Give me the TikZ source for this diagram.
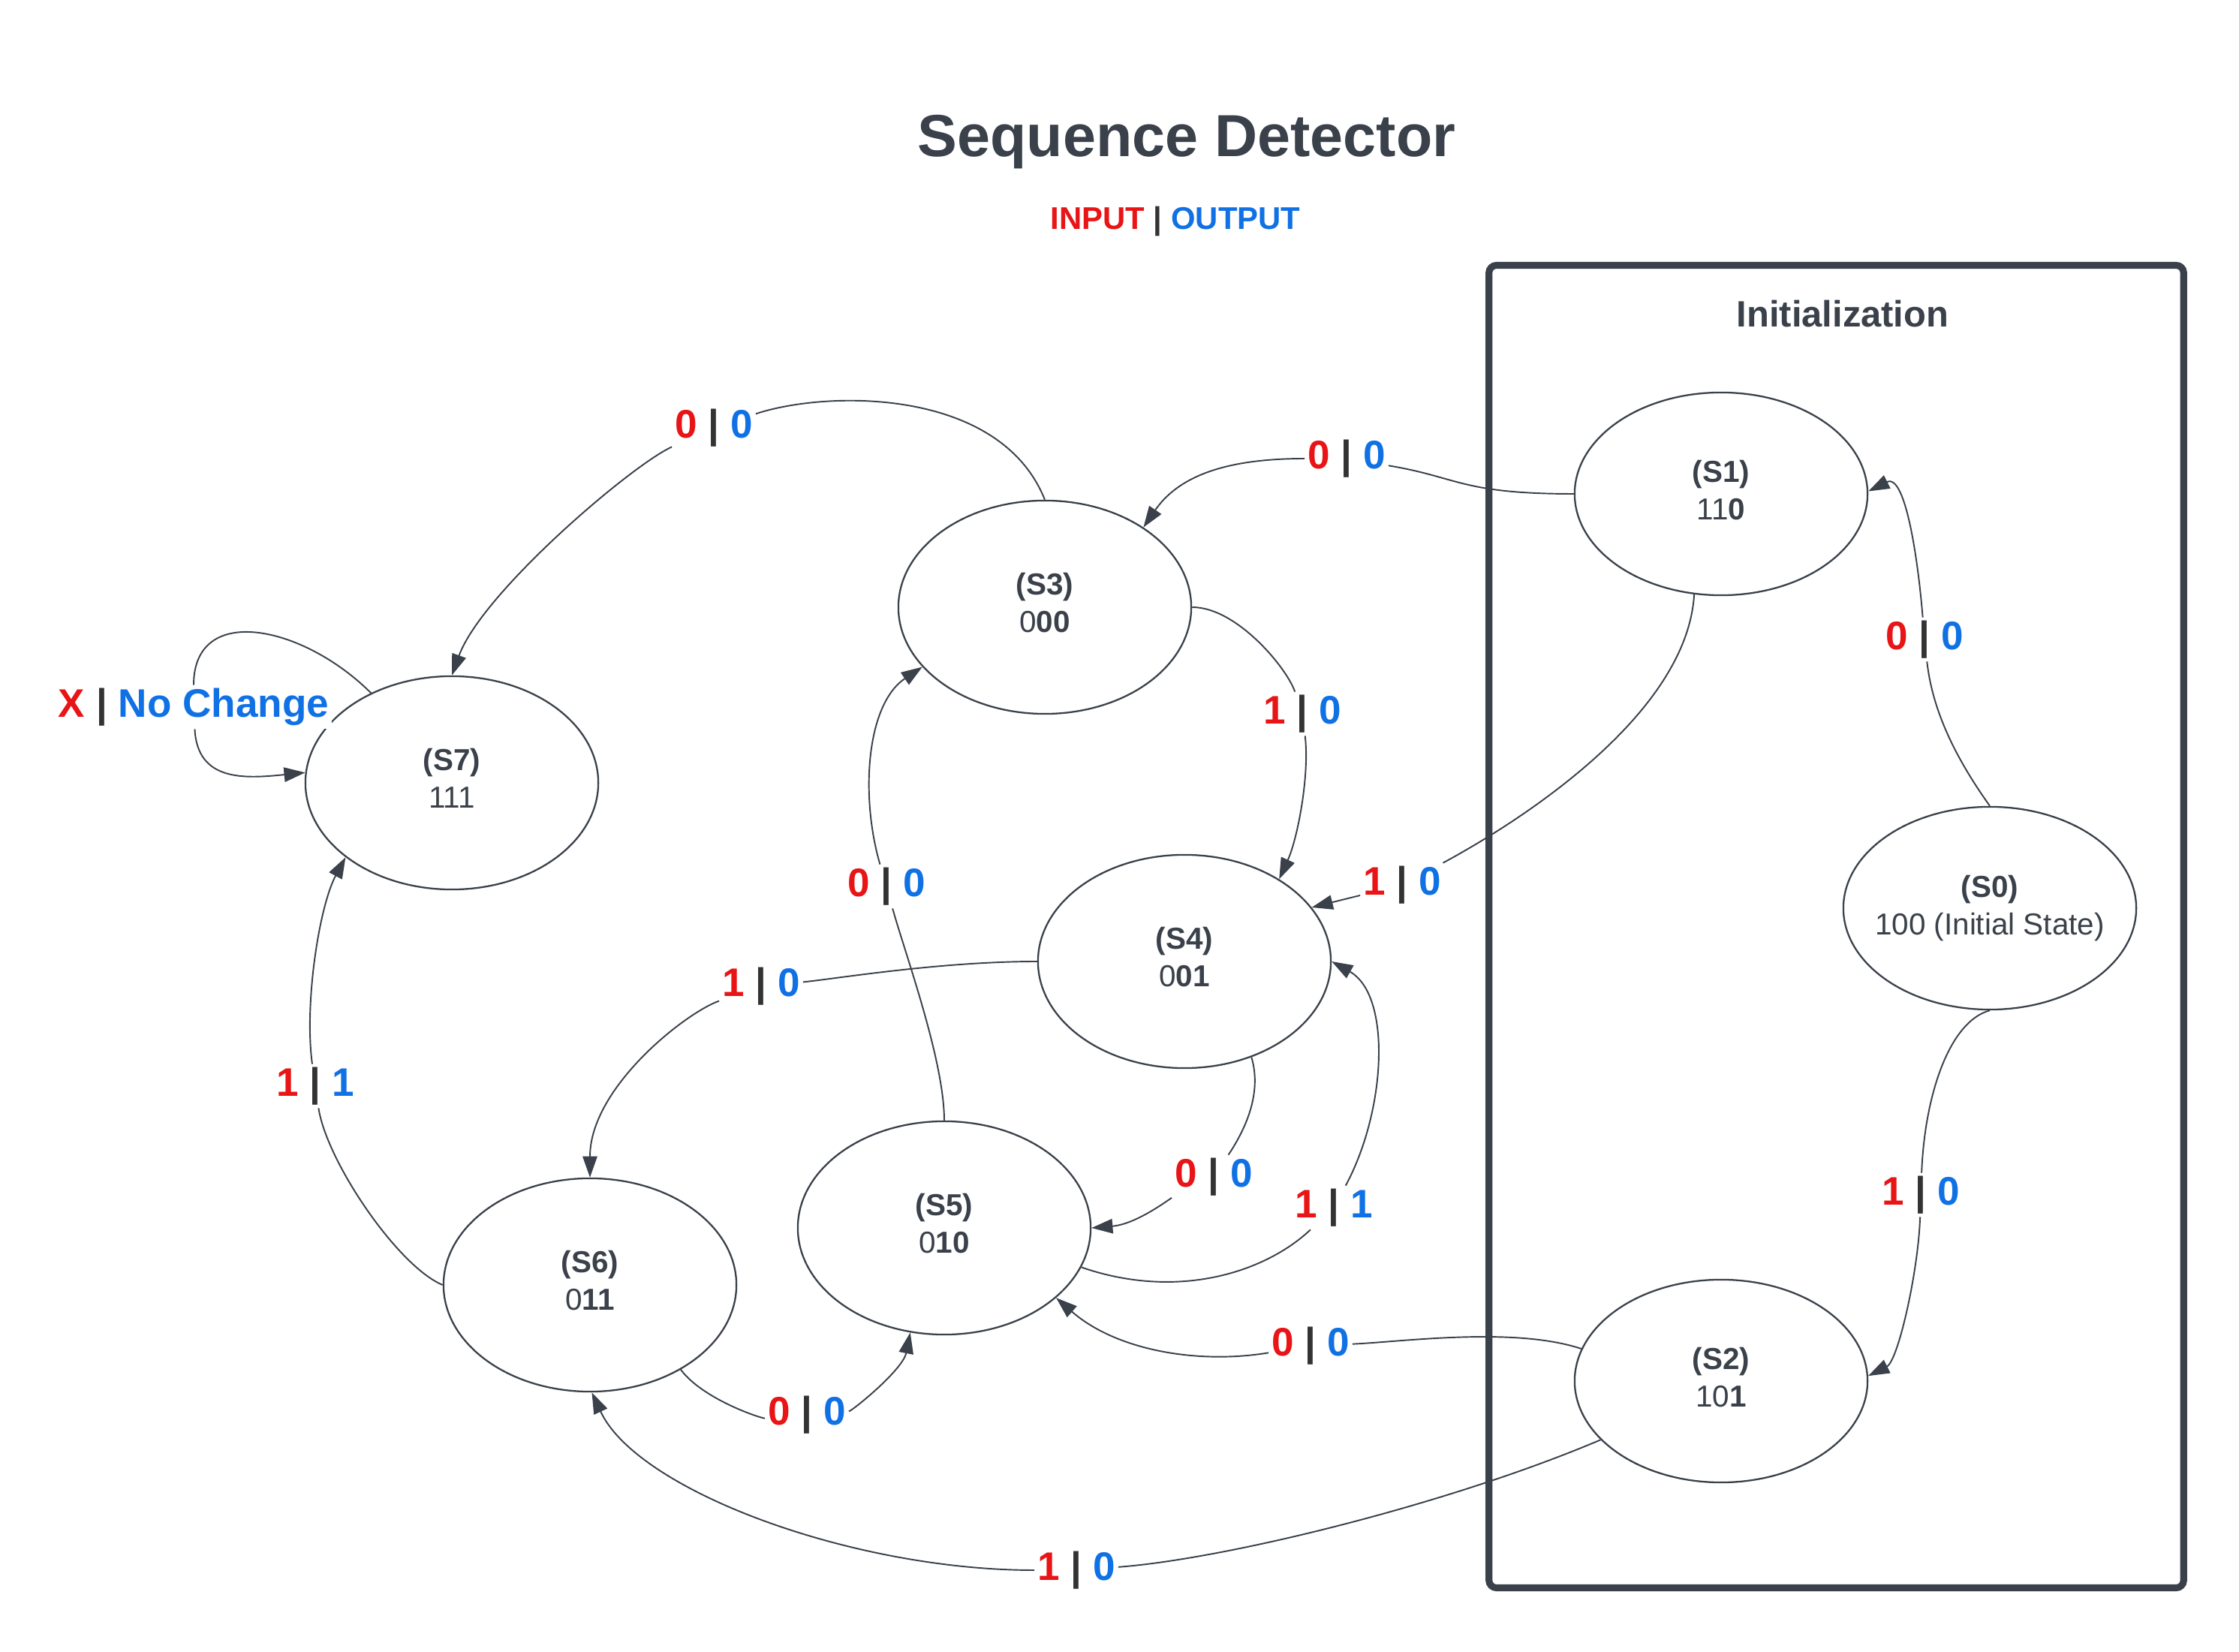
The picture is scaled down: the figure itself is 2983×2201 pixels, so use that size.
\documentclass[tikz,border=0pt]{standalone}
\usepackage{fontspec}
\setmainfont{Liberation Sans}
\usetikzlibrary{shapes.geometric,arrows.meta}
\definecolor{dark}{HTML}{3A414A}
\definecolor{inred}{HTML}{E81416}
\definecolor{outblue}{HTML}{1071E5}
\definecolor{barc}{HTML}{333333}
\newcommand\io[2]{\textcolor{inred}{#1} \textcolor{barc}{|} \textcolor{outblue}{#2}}
\begin{document}
\begin{tikzpicture}[x=0.01cm,y=-0.01cm,
  st/.style={ellipse, draw=dark, fill=white, line width=0.65pt, minimum width=3.9cm, minimum height=2.84cm, inner sep=0pt},
  stinit/.style={st, minimum height=2.7cm},
  stxt/.style={align=center, text=dark, inner sep=0pt, font=\fontsize{11.5}{14.2}\selectfont},
  lbl/.style={fill=white, inner sep=1pt, font=\bfseries\fontsize{15.1}{18}\selectfont},
  con/.style={draw=dark, line width=0.55pt},
  arr/.style={con, -{Triangle[length=8pt,width=5.5pt]}},
]
\fill[white] (0,0) rectangle (2983,2201);
\useasboundingbox (0,0) rectangle (2983,2201);

% titles
\node[font=\bfseries\fontsize{22.5}{27}\selectfont, text=dark, anchor=base] (title) at (1581,209) {Sequence Detector};
\node[font=\bfseries\fontsize{11.9}{14}\selectfont, anchor=base] (legend) at (1566,306) {\textcolor{inred}{INPUT} \textcolor{barc}{|} \textcolor{outblue}{OUTPUT}};

% initialization frame
\node[draw=dark, line width=2.6pt, rounded corners=0.1cm, minimum width=9.25cm, minimum height=17.61cm, inner sep=0pt, outer sep=0pt] (initbox) at (2446.5,1234.5) {};
\node[font=\bfseries\fontsize{13.9}{16}\selectfont, text=dark, anchor=base] (inittitle) at (2455,436) {Initialization};

% states
\node[stinit] (S0) at (2651,1210) {};
\node[stinit] (S1) at (2293,658) {};
\node[stinit] (S2) at (2293,1840) {};
\node[st] (S3) at (1392,809) {};
\node[st] (S4) at (1578,1281) {};
\node[st] (S5) at (1258,1636) {};
\node[st] (S6) at (786,1712) {};
\node[st] (S7) at (602,1043) {};

\node[stxt] (t0) at (2651,1210) {\textbf{(S0)}\\100 (Initial State)};
\node[stxt] (t1) at (2293,653) {\textbf{(S1)}\\11\textbf{0}};
\node[stxt] (t2) at (2293,1835) {\textbf{(S2)}\\10\textbf{1}};
\node[stxt] (t3) at (1392,803) {\textbf{(S3)}\\0\textbf{00}};
\node[stxt] (t4) at (1578,1275) {\textbf{(S4)}\\0\textbf{01}};
\node[stxt] (t5) at (1258,1630) {\textbf{(S5)}\\0\textbf{10}};
\node[stxt] (t6) at (786,1706) {\textbf{(S6)}\\0\textbf{11}};
\node[stxt] (t7) at (602,1037) {\textbf{(S7)}\\111};

% transition labels
\node[lbl] (l1) at (1794,611) {\io{0}{0}};
\node[lbl] (l2) at (1868,1179) {\io{1}{0}};
\node[lbl] (l3) at (2564,852) {\io{0}{0}};
\node[lbl] (l4) at (2559,1592) {\io{1}{0}};
\node[lbl] (l5) at (1746,1793) {\io{0}{0}};
\node[lbl] (l6) at (1434,2092) {\io{1}{0}};
\node[lbl] (l7) at (951,570) {\io{0}{0}};
\node[lbl] (l8) at (1735,951) {\io{1}{0}};
\node[lbl] (l9) at (1181,1181) {\io{0}{0}};
\node[lbl] (l10) at (1014,1314) {\io{1}{0}};
\node[lbl] (l11) at (1617,1568) {\io{0}{0}};
\node[lbl] (l12) at (1777,1609) {\io{1}{1}};
\node[lbl] (l13) at (1075,1885) {\io{0}{0}};
\node[lbl] (l14) at (420,1447) {\io{1}{1}};
\node[lbl] (l15) at (258,942) {\io{X}{No Change}};

% S1 -> S3
\draw[con] (S1.180) .. controls +(-150,0) and +(150,25) .. (l1);
\draw[arr] (l1) .. controls +(-150,0) and +(50,-73) .. (S3.39);
% S1 -> S4
\draw[con] (S1.255) .. controls +(-10,170) and +(130,-70) .. (l2);
\draw[arr] (l2) -- (S4.23);
% S0 -> S1
\draw[con] (S0.90) .. controls +(-50,-70) and +(10,90) .. (l3);
\draw[arr] (l3) .. controls +(-8,-100) and +(50,-25) .. (S1.1);
% S0 -> S2
\draw[con] (S0.270) .. controls +(-55,15) and +(5,-130) .. (l4);
\draw[arr] (l4) .. controls +(-3,100) and +(40,-20) .. (S2.2);
% S2 -> S5
\draw[con] (S2.167) .. controls +(-90,-30) and +(120,-5) .. (l5);
\draw[arr] (l5) .. controls +(-150,25) and +(80,70) .. (S5.328);
% S2 -> S6
\draw[con] (S2.206) .. controls +(-200,85) and +(200,-15) .. (l6);
\draw[arr] (l6) .. controls +(-300,0) and +(60,130) .. (S6.271);
% S3 -> S7
\draw[con] (S3.90) .. controls +(-60,-150) and +(150,-50) .. (l7);
\draw[arr] (l7) .. controls +(-110,50) and +(40,-110) .. (S7.90);
% S3 -> S4
\draw[con] (S3.0) .. controls +(60,0) and +(-20,-60) .. (l8);
\draw[arr] (l8) .. controls +(10,80) and +(25,-55) .. (S4.41);
% S5 -> S3
\draw[con] (S5.90) .. controls +(0,-80) and +(25,90) .. (l9);
\draw[arr] (l9) .. controls +(-35,-120) and +(-75,50) .. (S3.206);
% S4 -> S6
\draw[con] (S4.180) .. controls +(-130,0) and +(100,-10) .. (l10);
\draw[arr] (l10) .. controls +(-100,35) and +(0,-120) .. (S6.90);
% S4 -> S5
\draw[con] (S4.305) .. controls +(15,50) and +(40,-60) .. (l11);
\draw[arr] (l11) .. controls +(-60,30) and +(60,-5) .. (S5.0);
% S5 -> S4
\draw[con] (S5.344) .. controls +(130,45) and +(-90,85) .. (l12);
\draw[arr] (l12) .. controls +(70,-130) and +(80,45) .. (S4.0);
% S6 -> S5
\draw[con] (S6.317) .. controls +(30,40) and +(-60,5) .. (l13);
\draw[arr] (l13) .. controls +(60,-5) and +(-10,50) .. (S5.252);
% S6 -> S7
\draw[con] (S6.180) .. controls +(-60,-25) and +(15,100) .. (l14);
\draw[arr] (l14) .. controls +(-15,-110) and +(-35,65) .. (S7.215);
% S7 self loop
\draw[con] (S7.132) .. controls +(-90,-90) and +(0,-140) .. (l15);
\draw[arr] (l15) .. controls +(5,100) and +(-80,8) .. (S7.176);
\end{tikzpicture}
\end{document}
